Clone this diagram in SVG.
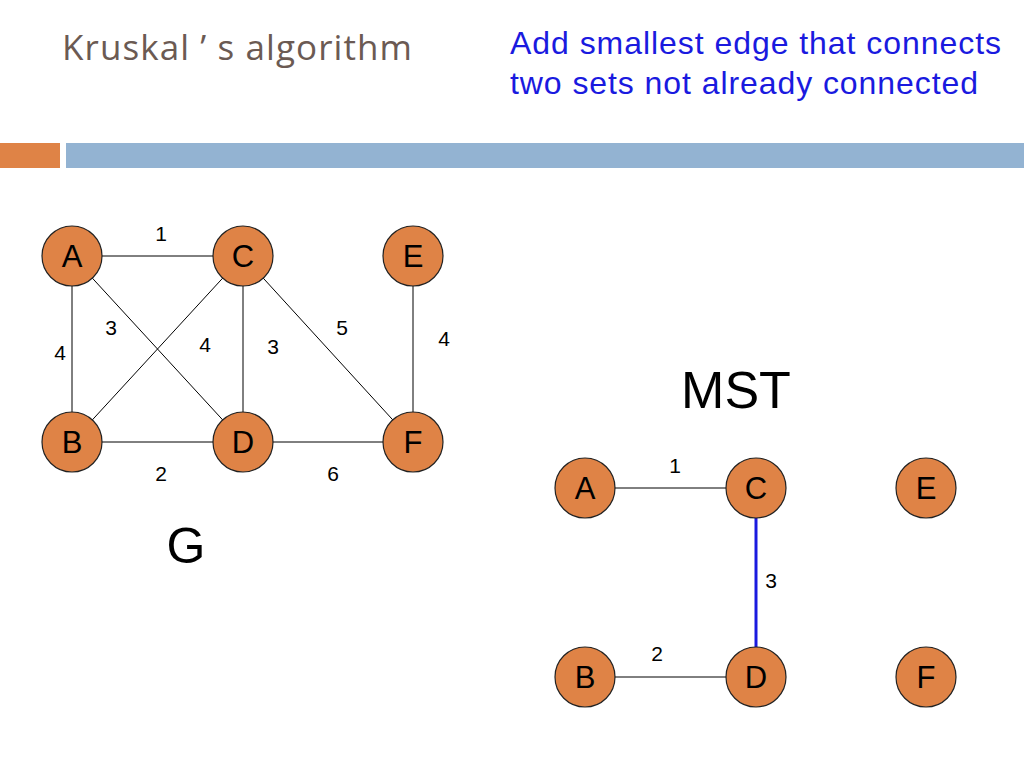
<svg xmlns="http://www.w3.org/2000/svg" width="1024" height="768" viewBox="0 0 1024 768">
<style>
.n{fill:#df8346;stroke:#222;stroke-width:1.2}
.nl{font-family:"Liberation Sans",Arial,sans-serif;font-size:31px;text-anchor:middle;fill:#000}
.w{font-family:"Liberation Sans",Arial,sans-serif;font-size:21px;text-anchor:middle;fill:#000}
.e{stroke:#000;stroke-width:1}
</style>
<rect width="1024" height="768" fill="#fff"/>
<text x="62" y="60" font-family="'Open Sans','DejaVu Sans',sans-serif" font-size="35" fill="#6b5a53" textLength="350" lengthAdjust="spacing">Kruskal ’ s algorithm</text>
<text font-family="'Liberation Sans',Arial,sans-serif" font-size="32" fill="#1a1adf"><tspan x="510" y="54" textLength="491">Add smallest edge that connects</tspan><tspan x="510" y="94" textLength="468">two sets not already connected</tspan></text>
<rect x="0" y="143" width="60" height="25" fill="#df8346"/>
<rect x="66" y="143" width="958" height="25" fill="#93b3d2"/>
<g id="connectors">
<line class="e" x1="72" y1="256" x2="243" y2="256"/>
<line class="e" x1="72" y1="256" x2="72" y2="442"/>
<line class="e" x1="72" y1="256" x2="243" y2="442"/>
<line class="e" x1="243" y1="256" x2="72" y2="442"/>
<line class="e" x1="243" y1="256" x2="243" y2="442"/>
<line class="e" x1="243" y1="256" x2="413" y2="442"/>
<line class="e" x1="413" y1="256" x2="413" y2="442"/>
<line class="e" x1="72" y1="442" x2="413" y2="442"/>
<line class="e" x1="585" y1="488" x2="756" y2="488"/>
<line x1="756" y1="488" x2="756" y2="677" stroke="#1a1adf" stroke-width="3"/>
<line class="e" x1="585" y1="677" x2="756" y2="677"/>
</g>
<g id="weights">
<text class="w" x="161" y="241">1</text>
<text class="w" x="111" y="335">3</text>
<text class="w" x="60" y="360">4</text>
<text class="w" x="205" y="352">4</text>
<text class="w" x="273" y="354">3</text>
<text class="w" x="342" y="335">5</text>
<text class="w" x="444" y="346">4</text>
<text class="w" x="161" y="481">2</text>
<text class="w" x="333" y="481">6</text>
<text class="w" x="675" y="473">1</text>
<text class="w" x="771" y="588">3</text>
<text class="w" x="657" y="661">2</text>
</g>
<g id="A"><circle class="n" cx="72" cy="256" r="30"/><text class="nl" x="72" y="267">A</text></g>
<g id="C"><circle class="n" cx="243" cy="256" r="30"/><text class="nl" x="243" y="267">C</text></g>
<g id="E"><circle class="n" cx="413" cy="256" r="30"/><text class="nl" x="413" y="267">E</text></g>
<g id="B"><circle class="n" cx="72" cy="442" r="30"/><text class="nl" x="72" y="453">B</text></g>
<g id="D"><circle class="n" cx="243" cy="442" r="30"/><text class="nl" x="243" y="453">D</text></g>
<g id="F"><circle class="n" cx="413" cy="442" r="30"/><text class="nl" x="413" y="453">F</text></g>
<g id="mA"><circle class="n" cx="585" cy="488" r="30"/><text class="nl" x="585" y="499">A</text></g>
<g id="mC"><circle class="n" cx="756" cy="488" r="30"/><text class="nl" x="756" y="499">C</text></g>
<g id="mE"><circle class="n" cx="926" cy="488" r="30"/><text class="nl" x="926" y="499">E</text></g>
<g id="mB"><circle class="n" cx="585" cy="677" r="30"/><text class="nl" x="585" y="688">B</text></g>
<g id="mD"><circle class="n" cx="756" cy="677" r="30"/><text class="nl" x="756" y="688">D</text></g>
<g id="mF"><circle class="n" cx="926" cy="677" r="30"/><text class="nl" x="926" y="688">F</text></g>
<text x="186" y="563" font-family="'Liberation Sans',Arial,sans-serif" font-size="50" text-anchor="middle">G</text>
<text x="736" y="408" font-family="'Liberation Sans',Arial,sans-serif" font-size="52" text-anchor="middle">MST</text>
</svg>
